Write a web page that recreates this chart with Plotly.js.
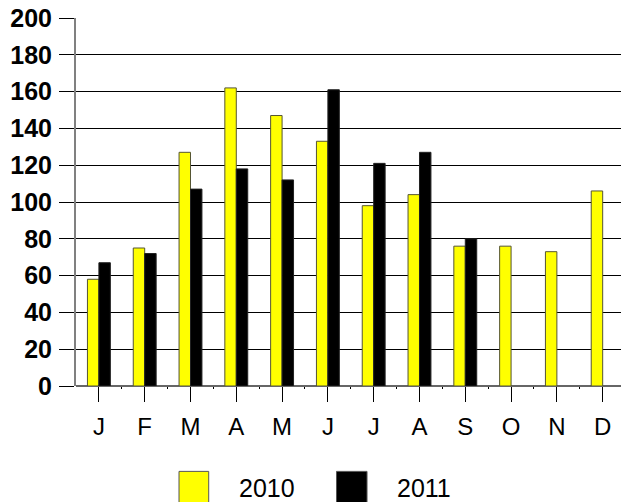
<!DOCTYPE html>
<html>
<head>
<meta charset="utf-8">
<script src="https://cdn.plot.ly/plotly-3.0.1.min.js"></script>
<style>html,body{margin:0;padding:0;background:#fff;}#chart{width:621px;height:502px;}</style>
</head>
<body>
<div id="chart"></div>
<script>
const months = ["J","F","M","A","M","J","J","A","S","O","N","D"];
const seriesNames = ["2010","2011"];
const values2010 = [58,75,127,162,147,133,98,104,76,76,73,106];
const values2011 = [67,72,107,118,112,161,121,127,80,null,null,null];
const yTicks = [0,20,40,60,80,100,120,140,160,180,200];

const cats = months.map((m,i)=>i);
const colors = ["#ffff00","#000000"];
const lines = ["#555533","#222222"];

const traces = [values2010, values2011].map((vals,k)=>({
  type:"bar", x:cats, y:vals, name:seriesNames[k],
  marker:{color:colors[k], line:{color:lines[k], width:1}},
  showlegend:false, hoverinfo:"skip"
}));
traces.push({type:"scatter", x:cats, y:values2010, xaxis:"x2", mode:"none", showlegend:false, hoverinfo:"skip"});

const shapes = [];
const annotations = [];
const legendX = [[0.189,0.2435,0.295],[0.478,0.534,0.586]];
seriesNames.forEach((n,k)=>{
  shapes.push({type:"rect", xref:"paper", yref:"paper", x0:legendX[k][0], x1:legendX[k][1], y0:-0.36, y1:-0.232,
    fillcolor:colors[k], line:{color:"#555555", width:1}});
  annotations.push({xref:"paper", yref:"paper", x:legendX[k][2], y:-0.278, xanchor:"left", yanchor:"middle",
    text:n, showarrow:false, font:{family:"Liberation Sans, Arial, sans-serif", size:25, color:"#000"}});
});

const layout = {
  width:621, height:502,
  margin:{l:76, r:0, t:18, b:116, pad:0},
  paper_bgcolor:"#fff", plot_bgcolor:"#fff",
  bargap:0.5, bargroupgap:0,
  font:{family:"Liberation Sans, Arial, sans-serif", color:"#000"},
  xaxis:{
    type:"linear", range:[-0.5,11.4], tickvals:cats, ticktext:months,
    ticks:"outside", ticklen:15, tickwidth:1, tickcolor:"#000",
    showgrid:false, zeroline:false, showline:false,
    tickfont:{size:24, family:"Liberation Sans, Arial, sans-serif"},
    ticklabelstandoff:4
  },
  xaxis2:{
    overlaying:"x", type:"linear", range:[-0.5,11.4], tickvals:cats.map(c=>c+0.5),
    ticks:"outside", ticklen:2, tickwidth:1, tickcolor:"#000", showticklabels:false,
    showgrid:false, zeroline:false, showline:false
  },
  yaxis:{
    range:[0,200], tickvals:yTicks, ticks:"outside", ticklen:15, tickwidth:1, tickcolor:"#000",
    showgrid:true, gridcolor:"#000", gridwidth:1,
    zeroline:true, zerolinecolor:"#666", zerolinewidth:2,
    showline:true, linecolor:"#808080", linewidth:2,
    tickfont:{size:25, weight:"bold", family:"Liberation Sans, Arial, sans-serif"},
    ticklabelstandoff:2
  },
  shapes:shapes, annotations:annotations
};
Plotly.newPlot("chart", traces, layout, {displayModeBar:false, staticPlot:true});
</script>
</body>
</html>
